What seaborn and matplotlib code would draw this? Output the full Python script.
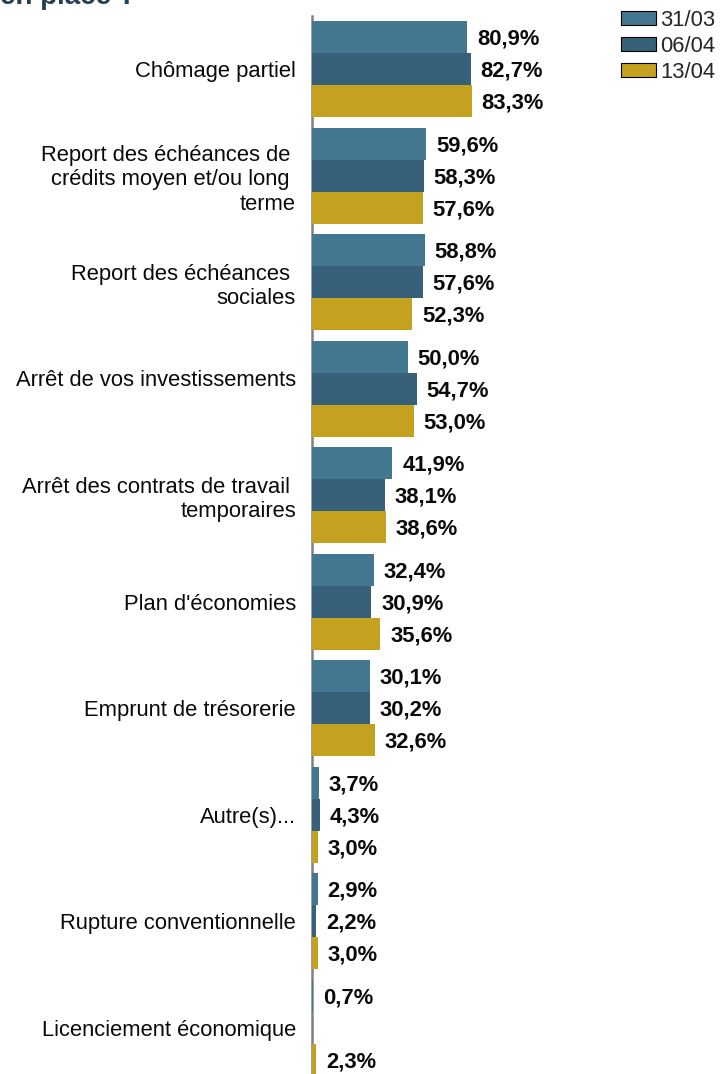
import numpy as np
import pandas as pd
import matplotlib
matplotlib.use("Agg")
import matplotlib.pyplot as plt
import seaborn as sns

categories = [
    "Chômage partiel",
    "Report des échéances de \ncrédits moyen et/ou long \nterme",
    "Report des échéances \nsociales",
    "Arrêt de vos investissements\n ",
    "Arrêt des contrats de travail \ntemporaires",
    "Plan d'économies",
    "Emprunt de trésorerie",
    "Autre(s)...",
    "Rupture conventionnelle",
    "Licenciement économique",
]
series_names = ["31/03", "06/04", "13/04"]
values_3103 = [80.9, 59.6, 58.8, 50.0, 41.9, 32.4, 30.1, 3.7, 2.9, 0.7]
values_0604 = [82.7, 58.3, 57.6, 54.7, 38.1, 30.9, 30.2, 4.3, 2.2, np.nan]
values_1304 = [83.3, 57.6, 52.3, 53.0, 38.6, 35.6, 32.6, 3.0, 3.0, 2.3]
colors = ["#437691", "#376079", "#c4a11e"]

rows = []
for name, vals in zip(series_names, [values_3103, values_0604, values_1304]):
    for c, v in zip(categories, vals):
        rows.append({"cat": c, "serie": name, "val": v})
df = pd.DataFrame(rows)

sns.set_theme(style="white")
plt.rcParams["font.family"] = ["Liberation Sans", "DejaVu Sans"]

W, H = 722, 1074
fig = plt.figure(figsize=(W / 100, H / 100), dpi=100)
left, right_ = 312, 312 + 192
top, bottom = 16, 1081
ax = fig.add_axes([left / W, 1 - bottom / H, (right_ - left) / W, (bottom - top) / H])

sns.barplot(data=df, y="cat", x="val", hue="serie", order=categories,
            hue_order=series_names, palette=colors, orient="h",
            width=0.9, errorbar=None, saturation=1, ax=ax, legend=False,
            linewidth=0, edgecolor="none")

ax.set_xlim(0, 100)
ax.set_ylim(len(categories) - 0.5, -0.5)
ax.set_xlabel("")
ax.set_ylabel("")
ax.set_xticks([])
for s in ["top", "right", "bottom"]:
    ax.spines[s].set_visible(False)
ax.spines["left"].set_color("#808080")
ax.spines["left"].set_linewidth(1.8)
ax.spines["left"].set_zorder(0.5)
ax.tick_params(axis="y", length=0, pad=11.5, labelsize=15.8, labelcolor="#0a0a0a")
for lab in ax.get_yticklabels():
    lab.set_linespacing(1.2)
    lab.set_multialignment("right")

for cont in ax.containers:
    anns = ax.bar_label(cont, labels=[("%.1f%%" % v).replace(".", ",") for v in cont.datavalues],
                        padding=7, fontsize=15.8, fontweight="bold", color="#0a0a0a")
    for a in anns:
        x0, y0 = a.xyann
        a.xyann = (x0, y0 - 1.5)

handles = [matplotlib.patches.Patch(facecolor=c, edgecolor="black", linewidth=0.8) for c in colors]
fig.legend(handles, series_names, loc="upper left", bbox_to_anchor=(621 / W, 1 - 10 / H),
           frameon=False, fontsize=15.8, handlelength=1.6, handleheight=0.6,
           handletextpad=0.2, labelspacing=0.22, borderpad=0, borderaxespad=0)

fig.text(0.0, 1 - 4 / H, "en place ?", fontsize=20, fontweight="bold",
         color="#243f50", ha="left", va="baseline")

fig.savefig("out.png", dpi=100)
